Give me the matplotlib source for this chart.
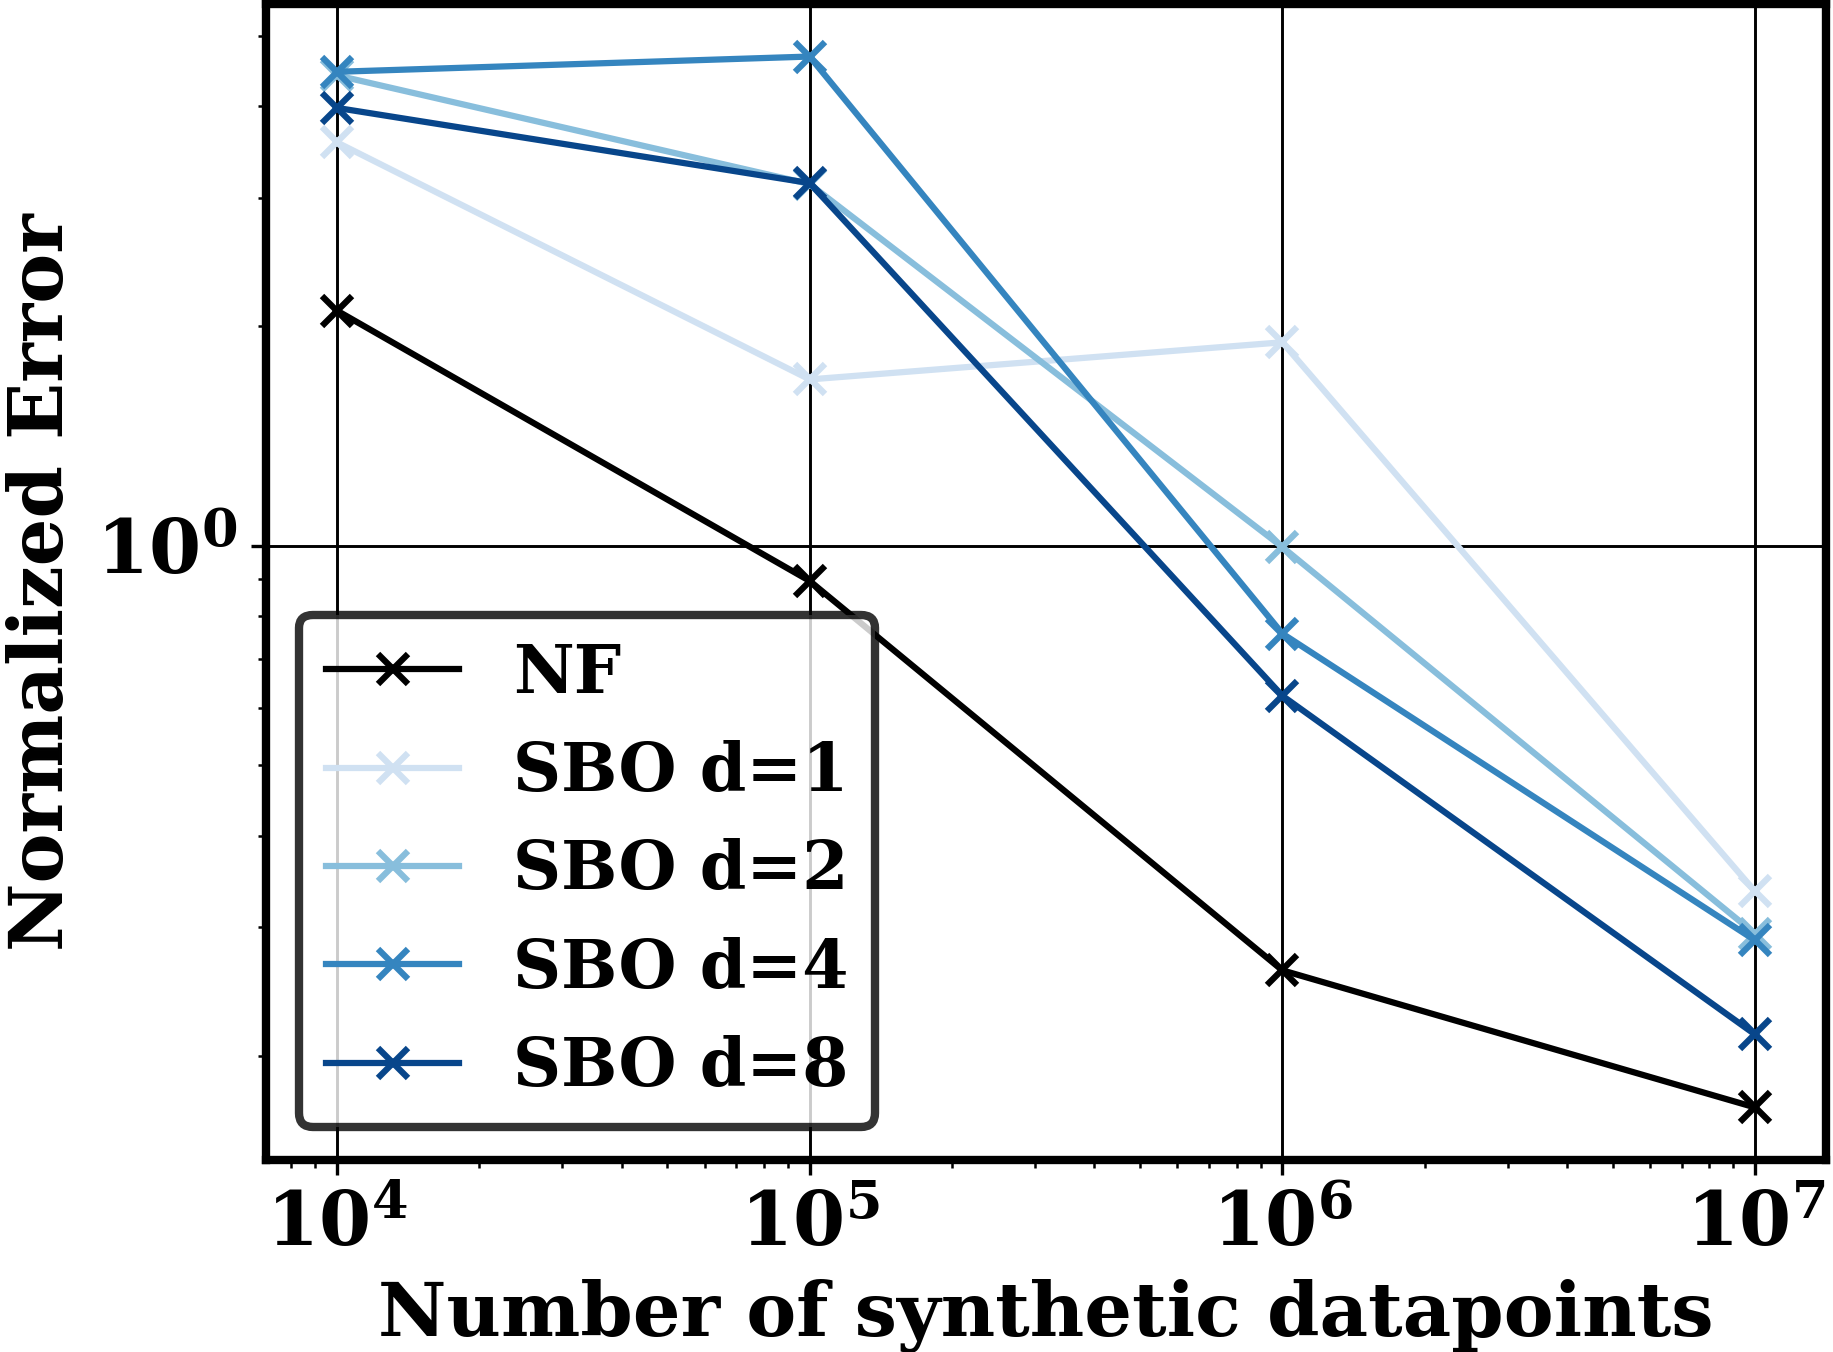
import matplotlib
matplotlib.use("Agg")
import matplotlib.pyplot as plt
from matplotlib.ticker import FixedLocator, FuncFormatter, LogLocator, NullFormatter

# ---- data ----
n_points = [1e4, 1e5, 1e6, 1e7]
series_labels = ["NF", "SBO d=1", "SBO d=2", "SBO d=4", "SBO d=8"]
nf = [2.10, 0.895, 0.262, 0.170]
sbo_d1 = [3.57, 1.69, 1.90, 0.336]
sbo_d2 = [4.41, 3.13, 0.996, 0.294]
sbo_d4 = [4.46, 4.68, 0.758, 0.288]
sbo_d8 = [3.98, 3.14, 0.623, 0.214]
series_values = [nf, sbo_d1, sbo_d2, sbo_d4, sbo_d8]
series_colors = ["black", "#d0e1f2", "#88bedc", "#3585bf", "#08468b"]
x_tick_values = [1e4, 1e5, 1e6, 1e7]
x_tick_labels = [r"$\mathbf{10^{4}}$", r"$\mathbf{10^{5}}$", r"$\mathbf{10^{6}}$", r"$\mathbf{10^{7}}$"]
y_tick_values = [1.0]
y_tick_labels = [r"$\mathbf{10^{0}}$"]

plt.rcParams["font.family"] = "DejaVu Serif"
plt.rcParams["font.weight"] = "bold"
plt.rcParams["mathtext.fontset"] = "dejavuserif"
plt.rcParams["font.size"] = 18

fig = plt.figure(figsize=(1833 / 300, 1352 / 300), dpi=300)
ax = fig.add_axes([266 / 1833, 1 - 1160 / 1352, (1826 - 266) / 1833, (1160 - 4) / 1352])

for vals, lab, col in zip(series_values, series_labels, series_colors):
    ax.plot(n_points, vals, marker="x", color=col, label=lab,
            linewidth=1.5, markersize=7, markeredgewidth=1.5)

ax.set_xscale("log")
ax.set_yscale("log")

ax.xaxis.set_major_locator(FixedLocator(x_tick_values))
ax.xaxis.set_major_formatter(FuncFormatter(lambda v, p: x_tick_labels[x_tick_values.index(v)] if v in x_tick_values else ""))
ax.xaxis.set_minor_locator(LogLocator(base=10, subs=range(2, 10)))
ax.xaxis.set_minor_formatter(NullFormatter())
ax.yaxis.set_major_locator(FixedLocator(y_tick_values))
ax.yaxis.set_major_formatter(FuncFormatter(lambda v, p: y_tick_labels[0] if abs(v - 1.0) < 1e-9 else ""))
ax.yaxis.set_minor_locator(LogLocator(base=10, subs=range(2, 10)))
ax.yaxis.set_minor_formatter(NullFormatter())

ax.grid(True, which="major", color="black", linewidth=0.7)

for s in ax.spines.values():
    s.set_linewidth(2)

ax.set_xlabel("Number of synthetic datapoints", fontweight="bold")
ax.set_ylabel("Normalized Error", fontweight="bold")

leg = ax.legend(loc="lower left", edgecolor="black", framealpha=0.8,
                prop={"weight": "bold", "size": 16})
leg.get_frame().set_linewidth(2)

fig.savefig("out.png", dpi=300)
